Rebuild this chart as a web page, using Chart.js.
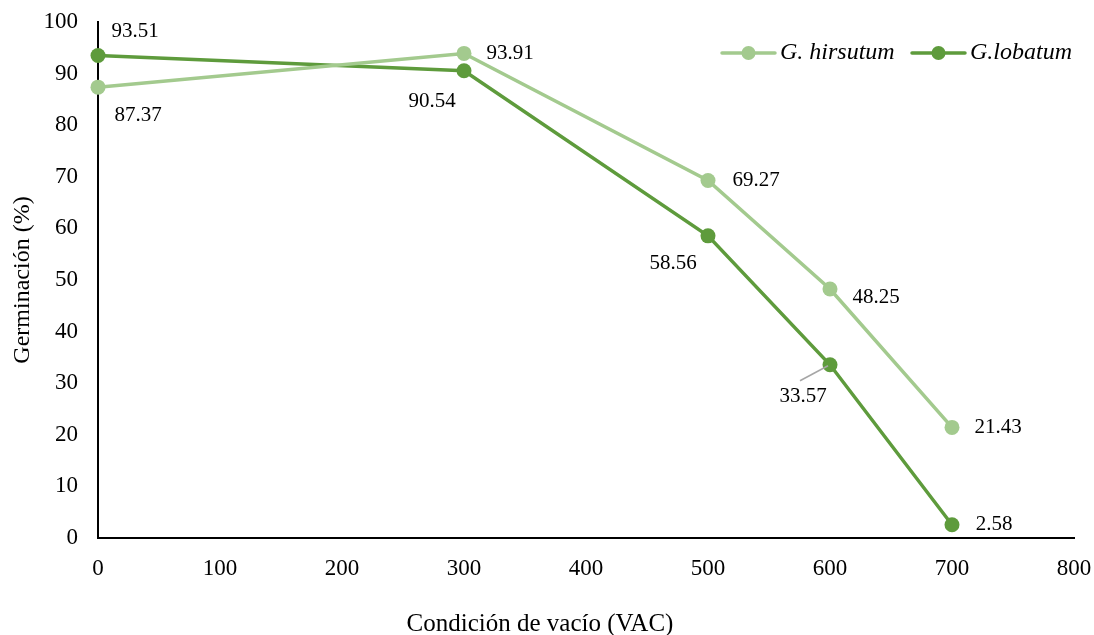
<!DOCTYPE html>
<html>
<head>
<meta charset="utf-8">
<script src="https://cdn.jsdelivr.net/npm/chart.js@4"></script>
<style>
  html, body { margin: 0; padding: 0; background: #fff; }
  #wrap { width: 1094px; height: 635px; }
</style>
</head>
<body>
<div id="wrap"><canvas id="germChart"></canvas></div>
<script>
// === Data ===
const vacuum = [0, 300, 500, 600, 700];
const hirsutum = [87.37, 93.91, 69.27, 48.25, 21.43];
const lobatum = [93.51, 90.54, 58.56, 33.57, 2.58];
const seriesNames = ["G. hirsutum", "G.lobatum"];
const xTitle = "Condición de vacío (VAC)";

const LIGHT = "#a3ca8e";
const DARK = "#5e9b3c";
const FONT = "'Liberation Serif', 'Times New Roman', serif";

// label placement (dx, dy from the point)
const labelOffsets = [
  [[40, 28], [46, 0], [48, 0], [46, 8], [46, 0]],
  [[37, -24], [-32, 31], [-35, 28], [-27, 32], [42, 0]],
];

// === Value labels ===
const valueLabels = {
  id: "valueLabels",
  afterDatasetsDraw(chart) {
    const ctx = chart.ctx;
    ctx.save();
    ctx.font = "21px " + FONT;
    ctx.fillStyle = "#000";
    ctx.textAlign = "center";
    ctx.textBaseline = "middle";
    chart.data.datasets.forEach((ds, i) => {
      chart.getDatasetMeta(i).data.forEach((pt, j) => {
        const [dx, dy] = labelOffsets[i][j];
        const v = ds.data[j].y;
        // leader line for the crowded point
        if (i === 1 && j === 3) {
          ctx.strokeStyle = "#a6a6a6";
          ctx.lineWidth = 1.5;
          ctx.beginPath();
          ctx.moveTo(pt.x - 30, pt.y + 16);
          ctx.lineTo(pt.x - 2, pt.y + 1);
          ctx.stroke();
        }
        ctx.fillText(v.toFixed(2), pt.x + dx, pt.y + dy);
      });
    });
    ctx.restore();
  },
};

// === Legend (line + marker) and x title ===
const lineLegend = {
  id: "lineLegend",
  afterDraw(chart) {
    const ctx = chart.ctx;
    const items = [
      { x: 722, color: LIGHT, text: seriesNames[0] },
      { x: 912, color: DARK, text: seriesNames[1] },
    ];
    const y = 53;
    ctx.save();
    items.forEach((it) => {
      ctx.strokeStyle = it.color;
      ctx.lineWidth = 3.5;
      ctx.lineCap = "round";
      ctx.beginPath();
      ctx.moveTo(it.x, y);
      ctx.lineTo(it.x + 53, y);
      ctx.stroke();
      ctx.fillStyle = it.color;
      ctx.beginPath();
      ctx.arc(it.x + 26.5, y, 7, 0, Math.PI * 2);
      ctx.fill();
      ctx.fillStyle = "#000";
      ctx.font = "italic 24px " + FONT;
      ctx.textAlign = "left";
      ctx.textBaseline = "middle";
      ctx.fillText(it.text, it.x + 58, y);
    });
    ctx.font = "25px " + FONT;
    ctx.textAlign = "center";
    ctx.fillText(xTitle, 540, 624);
    ctx.restore();
  },
};

const toPoints = (arr) => arr.map((v, i) => ({ x: vacuum[i], y: v }));

const ctxGerm = document.getElementById("germChart").getContext("2d");
new Chart(ctxGerm, {
  type: "line",
  data: {
    datasets: [
      {
        label: seriesNames[0],
        data: toPoints(hirsutum),
        borderColor: LIGHT,
        backgroundColor: LIGHT,
        borderWidth: 3.5,
        pointRadius: 7.5,
        pointHoverRadius: 7.5,
        pointBorderWidth: 0,
        tension: 0,
        clip: false,
      },
      {
        label: seriesNames[1],
        data: toPoints(lobatum),
        borderColor: DARK,
        backgroundColor: DARK,
        borderWidth: 3.5,
        pointRadius: 7.5,
        pointHoverRadius: 7.5,
        pointBorderWidth: 0,
        tension: 0,
        clip: false,
      },
    ],
  },
  options: {
    responsive: true,
    maintainAspectRatio: false,
    animation: false,
    layout: { padding: { left: 0, right: 20, top: 22, bottom: 0 } },
    plugins: {
      legend: { display: false },
      tooltip: { enabled: false },
    },
    scales: {
      x: {
        type: "linear",
        min: 0,
        max: 800,
        ticks: {
          stepSize: 100,
          color: "#000",
          padding: 17,
          font: { family: FONT, size: 23 },
        },
        grid: { display: false, drawTicks: false },
        border: { display: true, color: "#000", width: 2 },
        afterFit(scale) {
          scale.height = 97;
          scale.paddingLeft = 0;
          scale.paddingRight = 0;
        },
      },
      y: {
        min: 0,
        max: 100,
        ticks: {
          stepSize: 10,
          color: "#000",
          padding: 20,
          font: { family: FONT, size: 23 },
        },
        grid: { display: false, drawTicks: false },
        border: { display: true, color: "#000", width: 2 },
        title: {
          display: true,
          text: "Germinación (%)",
          color: "#000",
          font: { family: FONT, size: 24 },
          padding: { top: 8, bottom: 0 },
        },
        afterFit(scale) {
          scale.width = 98;
          scale.paddingTop = 0;
          scale.paddingBottom = 0;
        },
      },
    },
  },
  plugins: [valueLabels, lineLegend],
});
</script>
</body>
</html>
